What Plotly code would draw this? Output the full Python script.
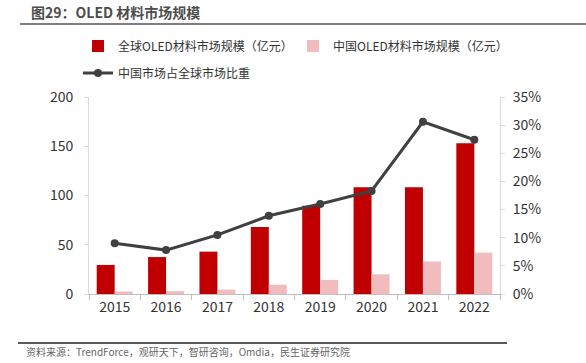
import plotly.graph_objects as go

years = ["2015", "2016", "2017", "2018", "2019", "2020", "2021", "2022"]
global_size = [29.5, 37.5, 43, 68, 89.5, 108.5, 108.5, 153]
china_size = [2.6, 2.9, 4.5, 9.4, 14.3, 20, 33, 42]
china_share = [0.090, 0.078, 0.105, 0.139, 0.160, 0.183, 0.306, 0.274]

name_global = "全球OLED材料市场规模（亿元）"
name_china = "中国OLED材料市场规模（亿元）"
name_share = "中国市场占全球市场比重"
title_text = "图29：OLED 材料市场规模"
source_text = "资料来源：TrendForce，观研天下，智研咨询，Omdia，民生证券研究院"

W, H = 586, 363
PL, PR, PT, PB = 89, 500, 97, 294  # plot area in page pixels
L, R, T, B = PL, W - PR, PT, H - PB
PW, PH = PR - PL, PB - PT

def px(x):
    return (x - PL) / PW

def py(y):
    return 1 - (y - PT) / PH

FONT = "Noto Sans CJK SC, Open Sans, sans-serif"

fig = go.Figure()
fig.add_trace(go.Bar(x=years, y=global_size, name=name_global,
                     marker_color="#C00000", marker_line_width=0, legend="legend"))
fig.add_trace(go.Bar(x=years, y=china_size, name=name_china,
                     marker_color="#F0BCBD", marker_line_width=0, legend="legend3"))
fig.add_trace(go.Scatter(x=years, y=china_share, name=name_share, yaxis="y2",
                         mode="lines+markers",
                         line=dict(color="#404040", width=3),
                         marker=dict(color="#404040", size=8), legend="legend2"))

leg_common = dict(orientation="h", xanchor="left", yanchor="middle",
                  font=dict(size=12, color="#333333"), itemwidth=30,
                  bgcolor="rgba(0,0,0,0)")

fig.update_layout(
    width=W, height=H,
    margin=dict(l=L, r=R, t=T, b=B, autoexpand=False),
    paper_bgcolor="white", plot_bgcolor="white",
    font=dict(family=FONT, size=13, color="#333333"),
    barmode="group", bargap=0.3, bargroupgap=0,
    showlegend=True,
    legend=dict(x=px(78), y=py(46), **leg_common),
    legend3=dict(x=px(293), y=py(46), **leg_common),
    legend2=dict(x=px(78), y=py(73), **leg_common),
    xaxis=dict(showline=True, linecolor="#BFBFBF", linewidth=1,
               ticks="outside", tickson="boundaries", ticklen=5, tickcolor="#BFBFBF",
               tickfont=dict(size=14, color="#333333"), showgrid=False),
    yaxis=dict(range=[0, 200], dtick=50, showline=True, linecolor="#D9D9D9",
               ticks="outside", ticklen=4, tickcolor="#D9D9D9", ticklabelstandoff=8,
               showgrid=False, zeroline=False,
               tickfont=dict(size=14, color="#333333")),
    yaxis2=dict(range=[0, 0.35], dtick=0.05, tickformat=".0%", overlaying="y",
                side="right", showline=True, linecolor="#D9D9D9",
                ticks="outside", ticklen=4, tickcolor="#D9D9D9", ticklabelstandoff=5,
                showgrid=False, zeroline=False,
                tickfont=dict(size=14, color="#333333")),
)

fig.add_annotation(text="<b>" + title_text + "</b>", xref="paper", yref="paper",
                   x=px(29), y=py(12), xanchor="left", yanchor="middle",
                   showarrow=False, font=dict(size=14, color="#4D4D4D", family=FONT))
fig.add_annotation(text=source_text, xref="paper", yref="paper",
                   x=px(24), y=py(351), xanchor="left", yanchor="middle",
                   showarrow=False, font=dict(size=10, color="#666666", family=FONT))

fig.add_shape(type="line", xref="paper", yref="paper",
              x0=px(20), x1=px(586), y0=py(24), y1=py(24),
              line=dict(color="#7F7F7F", width=2))
fig.add_shape(type="line", xref="paper", yref="paper",
              x0=px(18), x1=px(507), y0=py(343), y1=py(343),
              line=dict(color="#595959", width=2))

fig.write_html("out.html", config={"displayModeBar": False},
               post_script="document.body.style.margin='0';")
